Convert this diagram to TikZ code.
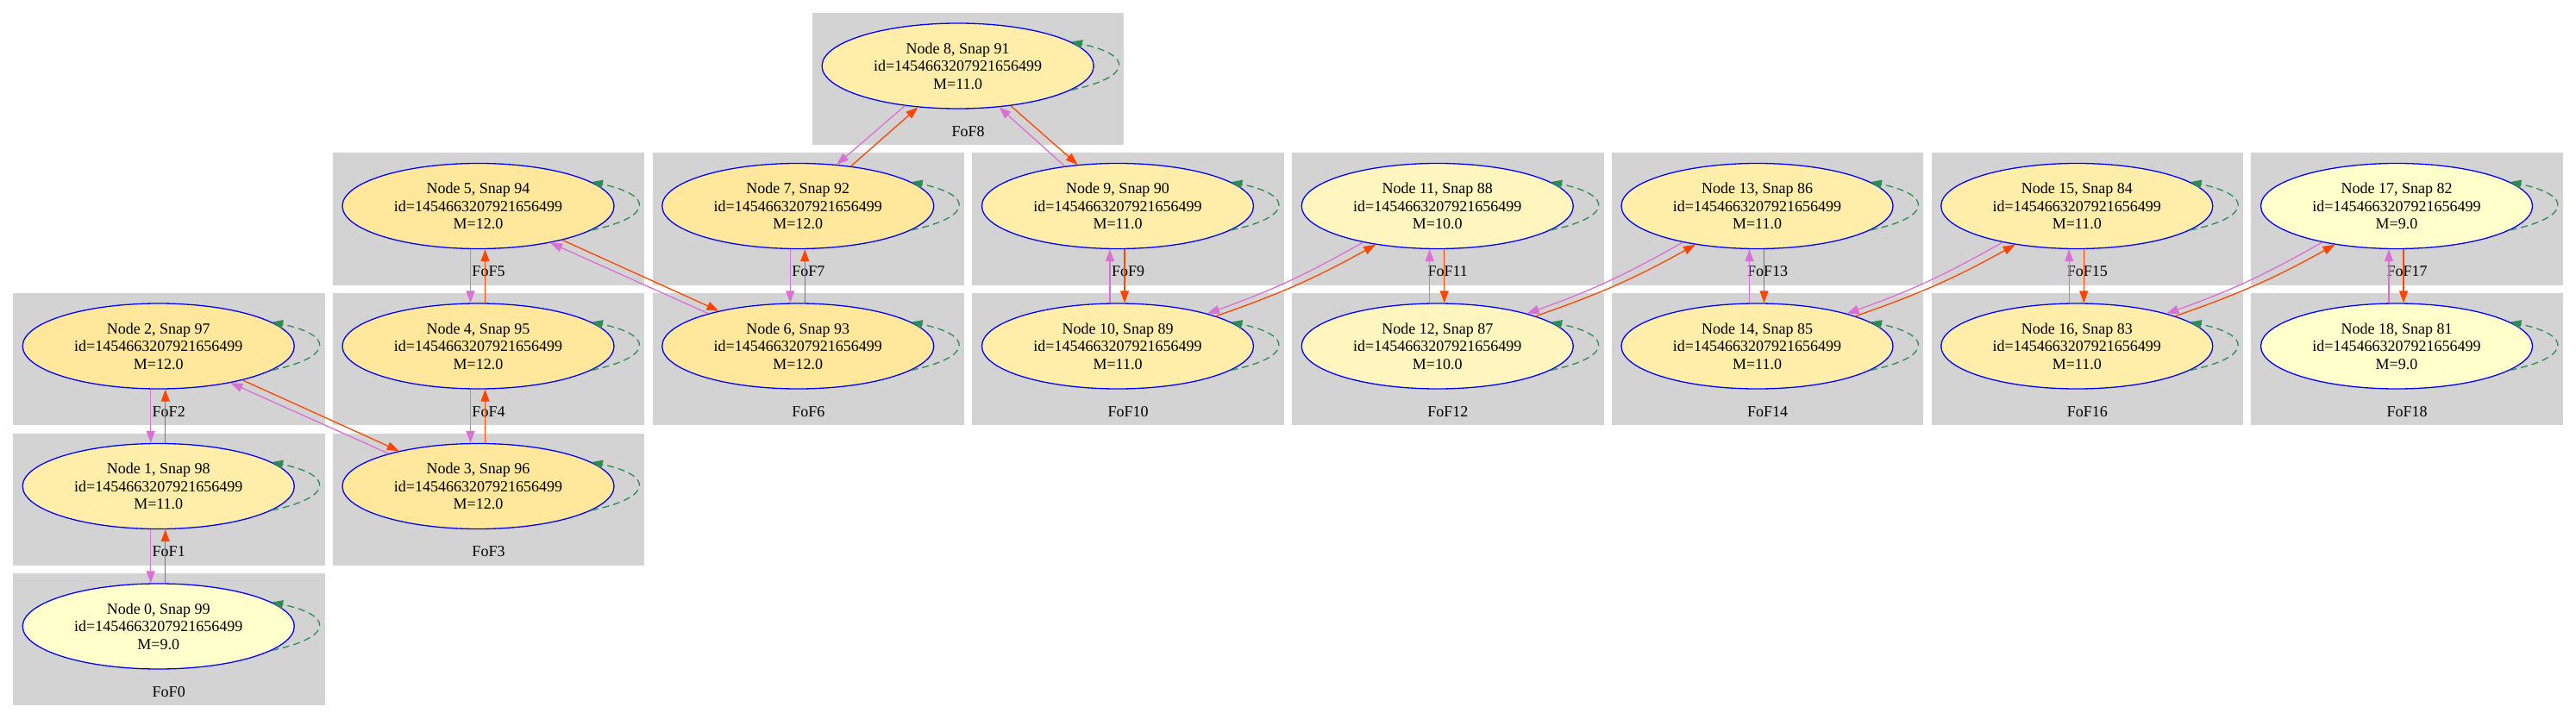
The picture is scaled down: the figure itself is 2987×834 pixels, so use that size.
\documentclass[tikz,border=0pt]{standalone}
\usepackage{fontspec}
\setmainfont{Liberation Serif}
\usetikzlibrary{arrows.meta,shapes.geometric}

\definecolor{fofgray}{HTML}{D3D3D3}
\definecolor{mnine}{HTML}{FFFFCC}
\definecolor{mten}{HTML}{FFF5BF}
\definecolor{meleven}{HTML}{FFEEAA}
\definecolor{mtwelve}{HTML}{FFE79C}
\definecolor{progcol}{HTML}{FF4500}
\definecolor{desccol}{HTML}{DA70D6}
\definecolor{loopcol}{HTML}{2E8B57}

\begin{document}
\begin{tikzpicture}

\useasboundingbox (0,0) rectangle (2987pt,-834pt);

\tikzstyle{fof}=[fill=fofgray, minimum width=361.5pt, minimum height=153pt, inner sep=0pt]
\tikzstyle{foflabel}=[inner sep=0pt, font=\fontsize{18}{20.5}\selectfont]
\tikzstyle{halo}=[ellipse, draw=blue, line width=1.3pt, minimum width=315pt, minimum height=99pt, inner sep=0pt, align=center, font=\fontsize{18}{20.5}\selectfont]
\tikzstyle{progedge}=[draw=progcol, line width=1.3pt, -{Triangle[length=14pt,width=10pt,fill=progcol]}]
\tikzstyle{descedge}=[draw=desccol, line width=1.3pt, -{Triangle[length=14pt,width=10pt,fill=desccol]}]
\tikzstyle{selfloop}=[draw=loopcol, line width=1.3pt, dash pattern=on 8pt off 5pt, -{Triangle[length=13pt,width=10pt,fill=loopcol,sep=0pt]}]

\begin{scope}[shift={(195.75pt,-91.5pt)}, x=370.75pt, y=-162.5pt]

% clusters, one per FoF
\node[fof] (fof0) at (0,4) {}; \node[foflabel] at ([yshift=16pt]fof0.south) {FoF0};
\node[fof] (fof1) at (0,3) {}; \node[foflabel] at ([yshift=16pt]fof1.south) {FoF1};
\node[fof] (fof2) at (0,2) {}; \node[foflabel] at ([yshift=16pt]fof2.south) {FoF2};
\node[fof] (fof3) at (1,3) {}; \node[foflabel] at ([yshift=16pt]fof3.south) {FoF3};
\node[fof] (fof4) at (1,2) {}; \node[foflabel] at ([yshift=16pt]fof4.south) {FoF4};
\node[fof] (fof5) at (1,1) {}; \node[foflabel] at ([yshift=16pt]fof5.south) {FoF5};
\node[fof] (fof6) at (2,2) {}; \node[foflabel] at ([yshift=16pt]fof6.south) {FoF6};
\node[fof] (fof7) at (2,1) {}; \node[foflabel] at ([yshift=16pt]fof7.south) {FoF7};
\node[fof] (fof8) at (2.5,0) {}; \node[foflabel] at ([yshift=16pt]fof8.south) {FoF8};
\node[fof] (fof9) at (3,1) {}; \node[foflabel] at ([yshift=16pt]fof9.south) {FoF9};
\node[fof] (fof10) at (3,2) {}; \node[foflabel] at ([yshift=16pt]fof10.south) {FoF10};
\node[fof] (fof11) at (4,1) {}; \node[foflabel] at ([yshift=16pt]fof11.south) {FoF11};
\node[fof] (fof12) at (4,2) {}; \node[foflabel] at ([yshift=16pt]fof12.south) {FoF12};
\node[fof] (fof13) at (5,1) {}; \node[foflabel] at ([yshift=16pt]fof13.south) {FoF13};
\node[fof] (fof14) at (5,2) {}; \node[foflabel] at ([yshift=16pt]fof14.south) {FoF14};
\node[fof] (fof15) at (6,1) {}; \node[foflabel] at ([yshift=16pt]fof15.south) {FoF15};
\node[fof] (fof16) at (6,2) {}; \node[foflabel] at ([yshift=16pt]fof16.south) {FoF16};
\node[fof] (fof17) at (7,1) {}; \node[foflabel] at ([yshift=16pt]fof17.south) {FoF17};
\node[fof] (fof18) at (7,2) {}; \node[foflabel] at ([yshift=16pt]fof18.south) {FoF18};

% halos
\node[halo, fill=mnine] (n0) at ([shift={(-12pt,15pt)}]fof0.center) {Node 0, Snap 99\\id=1454663207921656499\\M=9.0};
\node[halo, fill=meleven] (n1) at ([shift={(-12pt,15pt)}]fof1.center) {Node 1, Snap 98\\id=1454663207921656499\\M=11.0};
\node[halo, fill=mtwelve] (n2) at ([shift={(-12pt,15pt)}]fof2.center) {Node 2, Snap 97\\id=1454663207921656499\\M=12.0};
\node[halo, fill=mtwelve] (n3) at ([shift={(-12pt,15pt)}]fof3.center) {Node 3, Snap 96\\id=1454663207921656499\\M=12.0};
\node[halo, fill=mtwelve] (n4) at ([shift={(-12pt,15pt)}]fof4.center) {Node 4, Snap 95\\id=1454663207921656499\\M=12.0};
\node[halo, fill=mtwelve] (n5) at ([shift={(-12pt,15pt)}]fof5.center) {Node 5, Snap 94\\id=1454663207921656499\\M=12.0};
\node[halo, fill=mtwelve] (n6) at ([shift={(-12pt,15pt)}]fof6.center) {Node 6, Snap 93\\id=1454663207921656499\\M=12.0};
\node[halo, fill=mtwelve] (n7) at ([shift={(-12pt,15pt)}]fof7.center) {Node 7, Snap 92\\id=1454663207921656499\\M=12.0};
\node[halo, fill=meleven] (n8) at ([shift={(-12pt,15pt)}]fof8.center) {Node 8, Snap 91\\id=1454663207921656499\\M=11.0};
\node[halo, fill=meleven] (n9) at ([shift={(-12pt,15pt)}]fof9.center) {Node 9, Snap 90\\id=1454663207921656499\\M=11.0};
\node[halo, fill=meleven] (n10) at ([shift={(-12pt,15pt)}]fof10.center) {Node 10, Snap 89\\id=1454663207921656499\\M=11.0};
\node[halo, fill=mten] (n11) at ([shift={(-12pt,15pt)}]fof11.center) {Node 11, Snap 88\\id=1454663207921656499\\M=10.0};
\node[halo, fill=mten] (n12) at ([shift={(-12pt,15pt)}]fof12.center) {Node 12, Snap 87\\id=1454663207921656499\\M=10.0};
\node[halo, fill=meleven] (n13) at ([shift={(-12pt,15pt)}]fof13.center) {Node 13, Snap 86\\id=1454663207921656499\\M=11.0};
\node[halo, fill=meleven] (n14) at ([shift={(-12pt,15pt)}]fof14.center) {Node 14, Snap 85\\id=1454663207921656499\\M=11.0};
\node[halo, fill=meleven] (n15) at ([shift={(-12pt,15pt)}]fof15.center) {Node 15, Snap 84\\id=1454663207921656499\\M=11.0};
\node[halo, fill=meleven] (n16) at ([shift={(-12pt,15pt)}]fof16.center) {Node 16, Snap 83\\id=1454663207921656499\\M=11.0};
\node[halo, fill=mnine] (n17) at ([shift={(-12pt,15pt)}]fof17.center) {Node 17, Snap 82\\id=1454663207921656499\\M=9.0};
\node[halo, fill=mnine] (n18) at ([shift={(-12pt,15pt)}]fof18.center) {Node 18, Snap 81\\id=1454663207921656499\\M=9.0};

% self links
\foreach \n in {0,...,18}
  \draw[selfloop] (n\n.-12.5) .. controls +(72pt,15pt) and +(72pt,-15pt) .. (n\n.12.5);

% within a column
\draw[descedge] ([xshift=-9pt]n2.south) -- ([xshift=-9pt]n1.north);
\draw[progedge] ([xshift=8pt]n1.north) -- ([xshift=8pt]n2.south);
\draw[descedge] ([xshift=-9pt]n1.south) -- ([xshift=-9pt]n0.north);
\draw[progedge] ([xshift=8pt]n0.north) -- ([xshift=8pt]n1.south);
\draw[descedge] ([xshift=-9pt]n5.south) -- ([xshift=-9pt]n4.north);
\draw[progedge] ([xshift=8pt]n4.north) -- ([xshift=8pt]n5.south);
\draw[descedge] ([xshift=-9pt]n4.south) -- ([xshift=-9pt]n3.north);
\draw[progedge] ([xshift=8pt]n3.north) -- ([xshift=8pt]n4.south);
\draw[descedge] ([xshift=-9pt]n7.south) -- ([xshift=-9pt]n6.north);
\draw[progedge] ([xshift=8pt]n6.north) -- ([xshift=8pt]n7.south);
\draw[progedge] ([xshift=8pt]n9.south) -- ([xshift=8pt]n10.north);
\draw[descedge] ([xshift=-9pt]n10.north) -- ([xshift=-9pt]n9.south);
\draw[progedge] ([xshift=8pt]n11.south) -- ([xshift=8pt]n12.north);
\draw[descedge] ([xshift=-9pt]n12.north) -- ([xshift=-9pt]n11.south);
\draw[progedge] ([xshift=8pt]n13.south) -- ([xshift=8pt]n14.north);
\draw[descedge] ([xshift=-9pt]n14.north) -- ([xshift=-9pt]n13.south);
\draw[progedge] ([xshift=8pt]n15.south) -- ([xshift=8pt]n16.north);
\draw[descedge] ([xshift=-9pt]n16.north) -- ([xshift=-9pt]n15.south);
\draw[progedge] ([xshift=8pt]n17.south) -- ([xshift=8pt]n18.north);
\draw[descedge] ([xshift=-9pt]n18.north) -- ([xshift=-9pt]n17.south);

% across columns
\draw[progedge] (n2.-22.5) -- (n3.156);
\draw[descedge] (n3.160) -- (n2.-27);
\draw[progedge] (n5.-22.5) -- (n6.156);
\draw[descedge] (n6.160) -- (n5.-27);
\draw[progedge] (n7.37) -- (n8.226);
\draw[descedge] (n8.217) -- (n7.47);
\draw[progedge] (n8.-37) -- (n9.134);
\draw[descedge] (n9.143) -- (n8.-45);
\draw[progedge] (n10.17) to[bend right=5] (n11.212);
\draw[descedge] (n11.206) to[bend left=5] (n10.20);
\draw[progedge] (n12.17) to[bend right=5] (n13.212);
\draw[descedge] (n13.206) to[bend left=5] (n12.20);
\draw[progedge] (n14.17) to[bend right=5] (n15.212);
\draw[descedge] (n15.206) to[bend left=5] (n14.20);
\draw[progedge] (n16.17) to[bend right=5] (n17.212);
\draw[descedge] (n17.206) to[bend left=5] (n16.20);

\end{scope}

\end{tikzpicture}
\end{document}
